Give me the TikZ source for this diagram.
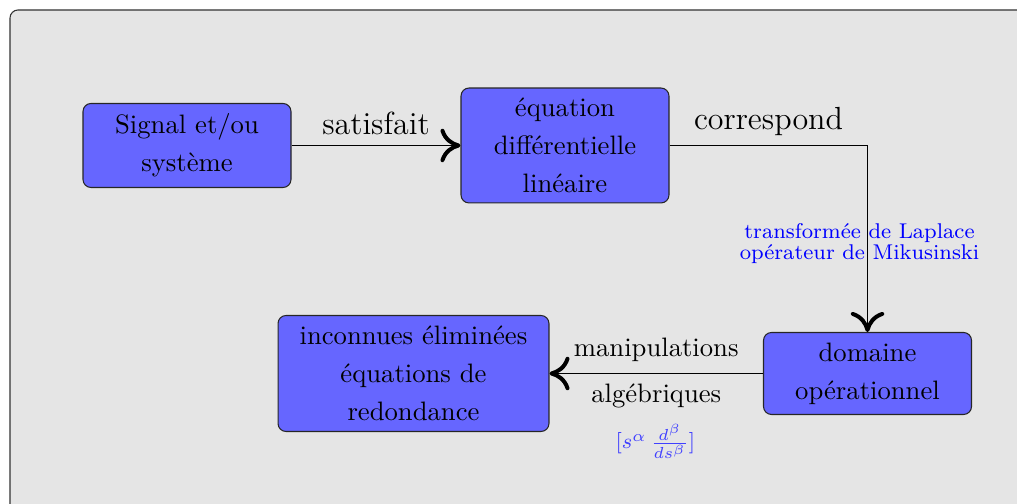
\documentclass[tikz,border=0pt]{standalone}
\usetikzlibrary{arrows.meta}
\definecolor{boxblue}{RGB}{102,102,255}
\definecolor{panel}{RGB}{229,229,229}
\begin{document}
\begin{tikzpicture}[x=0.375pt,y=-0.375pt,
  stage/.style={draw=black!85, fill=boxblue, rounded corners=3pt, align=center,
    inner sep=0pt, font=\fontsize{10}{14.25}\selectfont},
  flow/.style={draw=black, line width=0.4pt,
    -{To[length=7.5pt,width=12.5pt,line width=1.5pt]}},
  lbl/.style={font=\large, inner sep=0pt},
  sub/.style={font=\fontsize{10}{14}\selectfont, inner sep=0pt},
  note/.style={text=blue, align=center, inner sep=0pt,
    font=\fontsize{8}{7}\selectfont}]
  \useasboundingbox (0,0) rectangle (1017,504);
  % panel behind the diagram
  \begin{scope}
    \clip (0,0) rectangle (1017,504);
    \draw[draw=black!80, fill=panel, line width=0.4pt, rounded corners=3pt]
      (10,10) rectangle (1040,530);
  \end{scope}

  \node[stage, minimum width=78pt, minimum height=31.5pt] (sig) at (187,145.5)
    {Signal et/ou\\système};
  \node[stage, minimum width=78pt, minimum height=43.1pt] (edl) at (565,145.5)
    {équation\\différentielle\\linéaire};
  \node[stage, minimum width=78pt, minimum height=30.75pt] (dom) at (867.5,373.5)
    {domaine\\opérationnel};
  \node[stage, minimum width=101.6pt, minimum height=43.5pt] (inc) at (413.5,373.5)
    {inconnues éliminées\\équations de\\redondance};

  \draw[flow] (sig) -- node[lbl, midway, anchor=base, yshift=4pt] {satisfait} (edl);
  \draw[flow] (edl) -| node[lbl, pos=0.25, anchor=base, yshift=6pt] {correspond}
    node[note, pos=0.75, xshift=-3pt, yshift=-1.8pt] {transformée de Laplace\\opérateur de Mikusinski}
    (dom);
  \draw[flow] (dom) -- node[sub, midway, anchor=base, yshift=6.4pt] {manipulations}
    node[sub, midway, anchor=base, yshift=-10.8pt] {algébriques}
    node[midway, xshift=-0.3pt, yshift=-25.5pt, inner sep=0pt, text=blue!75,
      font=\footnotesize] {$[s^{\alpha}\,\frac{d^{\beta}}{ds^{\beta}}]$}
    (inc);
\end{tikzpicture}
\end{document}
